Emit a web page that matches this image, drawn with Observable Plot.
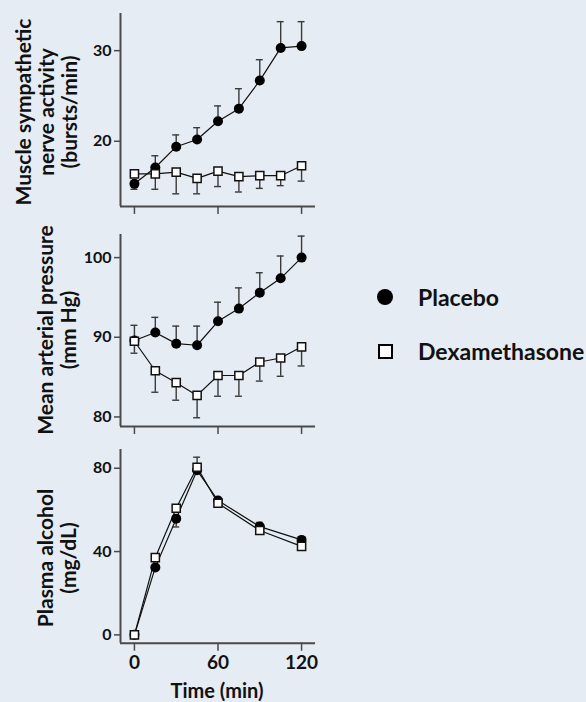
<!DOCTYPE html>
<html><head><meta charset="utf-8">
<script src="https://cdn.jsdelivr.net/npm/d3@7"></script>
<script src="https://cdn.jsdelivr.net/npm/@observablehq/plot@0.6"></script>
<style>
html,body{margin:0;padding:0;background:#e5ecf3;}
#root{position:relative;width:586px;height:702px;overflow:hidden;font-family:Lato,"Open Sans",sans-serif;font-weight:700;color:#111;}
.panel{position:absolute;left:0;}
.ytitle{position:absolute;white-space:pre;text-align:center;font-size:21px;line-height:23px;transform:translate(-50%,-50%) rotate(-90deg);}
.xtitle{position:absolute;width:200px;text-align:center;font-size:20px;line-height:20px;}
.leg{position:absolute;left:376px;display:flex;align-items:center;font-size:23px;}
.sym{width:18px;display:flex;justify-content:center;margin-right:24px;}
</style></head><body><div id="root"></div>
<script>
// ---- data ----
const seriesNames = ["Placebo", "Dexamethasone"];
const time = [0, 15, 30, 45, 60, 75, 90, 105, 120];

// Muscle sympathetic nerve activity (bursts/min)
const msnaPlacebo    = [15.3, 17.1, 19.4, 20.2, 22.2, 23.6, 26.7, 30.3, 30.5];
const msnaPlaceboBar = [14.7, 18.4, 20.7, 21.5, 23.9, 25.8, 29.0, 33.2, 33.2];
const msnaDex        = [16.4, 16.4, 16.6, 15.9, 16.7, 16.1, 16.2, 16.2, 17.3];
const msnaDexBar     = [null, 14.7, 14.2, 14.2, 15.0, 14.4, 14.8, 15.1, 15.6];

// Mean arterial pressure (mm Hg)
const mapPlacebo    = [89.6, 90.6, 89.2, 89.0, 92.0, 93.6, 95.6, 97.4, 100.0];
const mapPlaceboBar = [91.5, 92.5, 91.4, 91.4, 94.4, 96.2, 98.1, 100.2, 102.7];
const mapDex        = [89.5, 85.8, 84.3, 82.7, 85.2, 85.2, 86.9, 87.4, 88.8];
const mapDexBar     = [88.0, 83.1, 82.1, 79.9, 82.6, 82.6, 84.5, 85.1, 86.4];

// Plasma alcohol (mg/dL)
const alcTime       = [0, 15, 30, 45, 60, 90, 120];
const alcPlacebo    = [0, 32.4, 55.8, 79.0, 64.5, 52.0, 45.6];
const alcPlaceboBar = [null, null, 51.8, null, 66.0, 54.0, null];
const alcDex        = [0, 37.1, 60.8, 80.5, 63.2, 50.1, 42.5];
const alcDexBar     = [null, null, null, 85.3, null, null, null];

const xTicks = [0, 60, 120];
const msnaTicks = [20, 30];
const mapTicks = [80, 90, 100];
const alcTicks = [0, 40, 80];

const yTitles = ["Muscle sympathetic\nnerve activity\n(bursts/min)", "Mean arterial pressure\n(mm Hg)", "Plasma alcohol\n(mg/dL)"];
const xTitle = "Time (min)";

// ---- drawing ----
const FONT = 'Lato, "Open Sans", sans-serif';
const AXIS = "#4a4a4a";
const ERR = "#3a3a3a";
const xDomain = [-10, 130];
const capHalf = 2.5; // minutes

function rows(t, v, bar) { return t.map((x, i) => ({t: x, v: v[i], bar: bar[i]})); }

function errMarks(data) {
  const d = data.filter(r => r.bar != null);
  return [
    Plot.ruleX(d, {x: "t", y1: "v", y2: "bar", stroke: ERR, strokeWidth: 1.4}),
    Plot.ruleY(d, {y: "bar", x1: r => r.t - capHalf, x2: r => r.t + capHalf, stroke: ERR, strokeWidth: 1.4})
  ];
}

function panel(cfg) {
  const p = rows(cfg.t, cfg.placebo, cfg.placeboBar);
  const d = rows(cfg.t, cfg.dex, cfg.dexBar);
  const svg = Plot.plot({
    width: 330, height: cfg.height,
    marginLeft: 120, marginRight: 15, marginTop: cfg.marginTop, marginBottom: cfg.marginBottom,
    x: {domain: xDomain},
    y: {domain: cfg.yDomain},
    style: {background: "transparent", fontFamily: FONT, fontWeight: "bold", color: "#111", overflow: "visible"},
    marks: [
      Plot.ruleX([xDomain[0]], {stroke: AXIS, strokeWidth: 2}),
      Plot.ruleY([cfg.yDomain[0]], {stroke: AXIS, strokeWidth: 2}),
      Plot.axisY({ticks: cfg.yTicks, tickSize: 6, tickPadding: 3, stroke: AXIS, strokeWidth: 1.5, fontSize: 16, fontWeight: "bold", fill: "#111", label: null}),
      Plot.axisX({ticks: xTicks, tickSize: 8, tickPadding: 4, stroke: AXIS, strokeWidth: 1.5, fontSize: 19, fontWeight: "bold", fill: "#111", label: null,
                  tickFormat: cfg.xLabels ? (v => String(v)) : (() => "")}),
      ...errMarks(p),
      ...errMarks(d),
      Plot.line(p, {x: "t", y: "v", stroke: "#111", strokeWidth: 1.2}),
      Plot.line(d, {x: "t", y: "v", stroke: "#111", strokeWidth: 1.2}),
      Plot.dot(p, {x: "t", y: "v", r: 5, fill: "#000", stroke: null}),
      Plot.dot(d, {x: "t", y: "v", symbol: "square", r: 4.6, fill: "#fff", stroke: "#111", strokeWidth: 1.5})
    ]
  });
  svg.classList.add("panel");
  svg.style.top = cfg.top + "px";
  return svg;
}

const root = document.getElementById("root");
root.appendChild(panel({top: 0, height: 220, marginTop: 13, marginBottom: 14, yDomain: [12.8, 34.1], yTicks: msnaTicks,
  t: time, placebo: msnaPlacebo, placeboBar: msnaPlaceboBar, dex: msnaDex, dexBar: msnaDexBar, xLabels: false}));
root.appendChild(panel({top: 220, height: 220, marginTop: 14, marginBottom: 14, yDomain: [78.8, 102.9], yTicks: mapTicks,
  t: time, placebo: mapPlacebo, placeboBar: mapPlaceboBar, dex: mapDex, dexBar: mapDexBar, xLabels: false}));
root.appendChild(panel({top: 430, height: 272, marginTop: 19, marginBottom: 59.3, yDomain: [-4, 89], yTicks: alcTicks,
  t: alcTime, placebo: alcPlacebo, placeboBar: alcPlaceboBar, dex: alcDex, dexBar: alcDexBar, xLabels: true}));

// y titles
const titlePos = [[45, 112], [56, 330], [56, 558]];
yTitles.forEach((txt, i) => {
  const el = document.createElement("div");
  el.className = "ytitle";
  el.textContent = txt;
  el.style.left = titlePos[i][0] + "px";
  el.style.top = titlePos[i][1] + "px";
  root.appendChild(el);
});

// x title
const xt = document.createElement("div");
xt.className = "xtitle";
xt.textContent = xTitle;
xt.style.left = (217 - 100) + "px";
xt.style.top = (690 - 10) + "px";
root.appendChild(xt);

// legend
const legTops = [297, 351];
seriesNames.forEach((name, i) => {
  const row = document.createElement("div");
  row.className = "leg";
  row.style.top = (legTops[i] - 15) + "px";
  row.style.height = "30px";
  const sym = document.createElement("div");
  sym.className = "sym";
  const s = document.createElement("div");
  if (i === 0) { s.style.cssText = "width:16px;height:16px;border-radius:50%;background:#000;"; }
  else { s.style.cssText = "width:15px;height:15px;box-sizing:border-box;border:2px solid #000;background:#fff;"; }
  sym.appendChild(s);
  row.appendChild(sym);
  const t = document.createElement("span");
  t.textContent = name;
  row.appendChild(t);
  root.appendChild(row);
});
</script>
</body></html>
